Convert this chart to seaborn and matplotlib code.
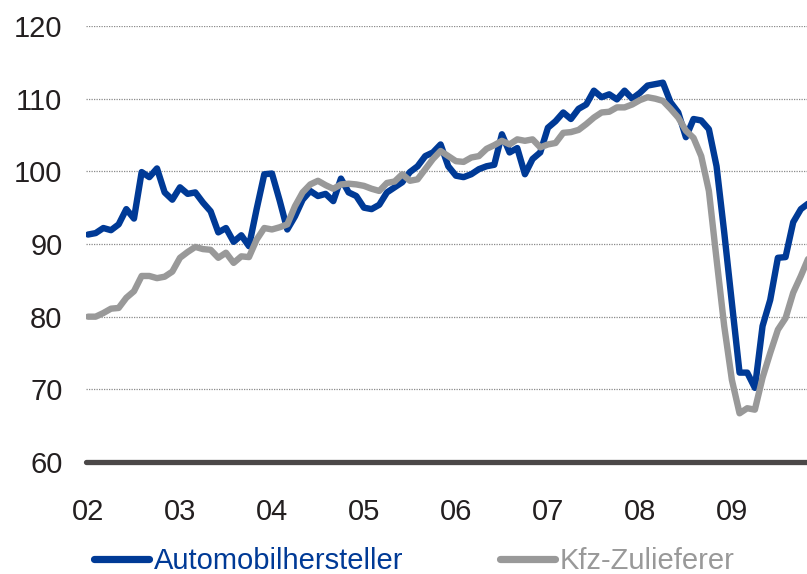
import numpy as np
import pandas as pd

import matplotlib
matplotlib.use('Agg')
import matplotlib.pyplot as plt
from matplotlib.lines import Line2D
import seaborn as sns

sns.set_theme(style='white')
plt.rcParams['font.family'] = ['Liberation Sans', 'DejaVu Sans']

# ====
# DATA
# ====
# monthly index values, Jan 2002 onwards
year_labels = ['02', '03', '04', '05', '06', '07', '08', '09']

automobil = [91.3, 91.5, 92.2, 91.9, 92.7, 94.8, 93.5, 99.9, 99.2, 100.4,
             97.1, 96.1, 97.8, 96.9, 97.1, 95.7, 94.5, 91.6, 92.2, 90.3,
             91.2, 89.7, 94.8, 99.6, 99.7, 96.0, 92.0, 93.8, 96.1, 97.3,
             96.6, 96.9, 95.9, 99.0, 97.1, 96.6, 95.0, 94.8, 95.4, 97.1,
             97.8, 98.5, 99.9, 100.7, 102.1, 102.6, 103.7, 100.7, 99.4, 99.2,
             99.6, 100.3, 100.7, 100.9, 105.1, 102.6, 103.2, 99.6, 101.7, 102.6,
             106.0, 106.9, 108.1, 107.2, 108.6, 109.2, 111.1, 110.2, 110.6, 109.9,
             111.1, 110.0, 110.8, 111.8, 112.0, 112.2, 109.5, 108.1, 104.7, 107.2,
             107.0, 105.8, 100.7, 91.6, 81.9, 72.3, 72.3, 70.2, 78.7, 82.3,
             88.1, 88.2, 93.0, 94.8, 95.6]

zulieferer = [80.0, 80.0, 80.5, 81.1, 81.2, 82.6, 83.5, 85.6, 85.6, 85.3,
              85.5, 86.2, 88.1, 88.9, 89.6, 89.3, 89.2, 88.1, 88.8, 87.4,
              88.3, 88.2, 90.6, 92.2, 92.0, 92.3, 92.7, 95.2, 97.1, 98.2,
              98.7, 98.1, 97.6, 98.2, 98.3, 98.2, 98.0, 97.6, 97.3, 98.4,
              98.6, 99.6, 98.7, 98.9, 100.3, 101.7, 102.8, 102.1, 101.4, 101.3,
              101.9, 102.1, 103.1, 103.6, 104.2, 103.7, 104.4, 104.2, 104.4, 103.3,
              103.7, 103.9, 105.3, 105.4, 105.7, 106.5, 107.4, 108.1, 108.2, 108.8,
              108.8, 109.2, 109.8, 110.2, 110.0, 109.7, 108.6, 107.4, 105.6, 104.6,
              102.1, 97.3, 87.9, 78.7, 71.3, 66.7, 67.4, 67.2, 71.6, 75.0,
              78.2, 79.8, 83.3, 85.6, 88.1]

series_names = ['Automobilhersteller', 'Kfz-Zulieferer']
colors = {'Automobilhersteller': '#003a96', 'Kfz-Zulieferer': '#999999'}

months = np.arange(len(automobil))
df = pd.DataFrame({'Monat': np.concatenate([months, months]),
                   'Index': automobil + zulieferer,
                   'Reihe': [series_names[0]] * len(automobil)
                            + [series_names[1]] * len(zulieferer)})

# ====
# PLOT
# ====
fig = plt.figure(figsize=(8.07, 5.74), dpi=100)
ax = fig.add_axes([86 / 807, 1 - 462 / 574, 721 / 807, 436 / 574])

# dotted grid, thick base line at 60
for v in range(70, 121, 10):
    ax.axhline(v, color='#8a8a8a', lw=0.9, ls=(0, (1, 1)), zorder=0)
ax.axhline(60, color='#4b4848', lw=3.8, zorder=3, clip_on=False)

sns.lineplot(data=df, x='Monat', y='Index', hue='Reihe',
             hue_order=series_names, palette=colors,
             linewidth=4.6, legend=False, ax=ax)
for line in ax.get_lines()[-2:]:
    line.set_solid_joinstyle('round')

ax.set_xlim(-0.26, 93.8)
ax.set_ylim(60, 120)
ax.set_xticks(np.arange(0, 85, 12))
ax.set_xticklabels(year_labels)
ax.set_yticks(range(60, 121, 10))
ax.tick_params(axis='x', labelsize=21, pad=26, length=0, colors='#231f20')
ax.tick_params(axis='y', labelsize=21, pad=17, length=0, colors='#231f20')
ax.set_xlabel('')
ax.set_ylabel('')
sns.despine(ax=ax, left=True, bottom=True)

# legend below the chart, text in series colour
handles = [Line2D([], [], color=colors[n], lw=5.2, solid_capstyle='round')
           for n in series_names]
fig.legend(handles, series_names, loc='center left',
           bbox_to_anchor=(94 / 807, 1 - 561 / 574), ncol=2, frameon=False,
           fontsize=21, handlelength=1.9, handletextpad=0.15,
           columnspacing=3.3, borderpad=0, borderaxespad=0,
           labelcolor='linecolor')

plt.savefig('out.png', dpi=100)
plt.close()
